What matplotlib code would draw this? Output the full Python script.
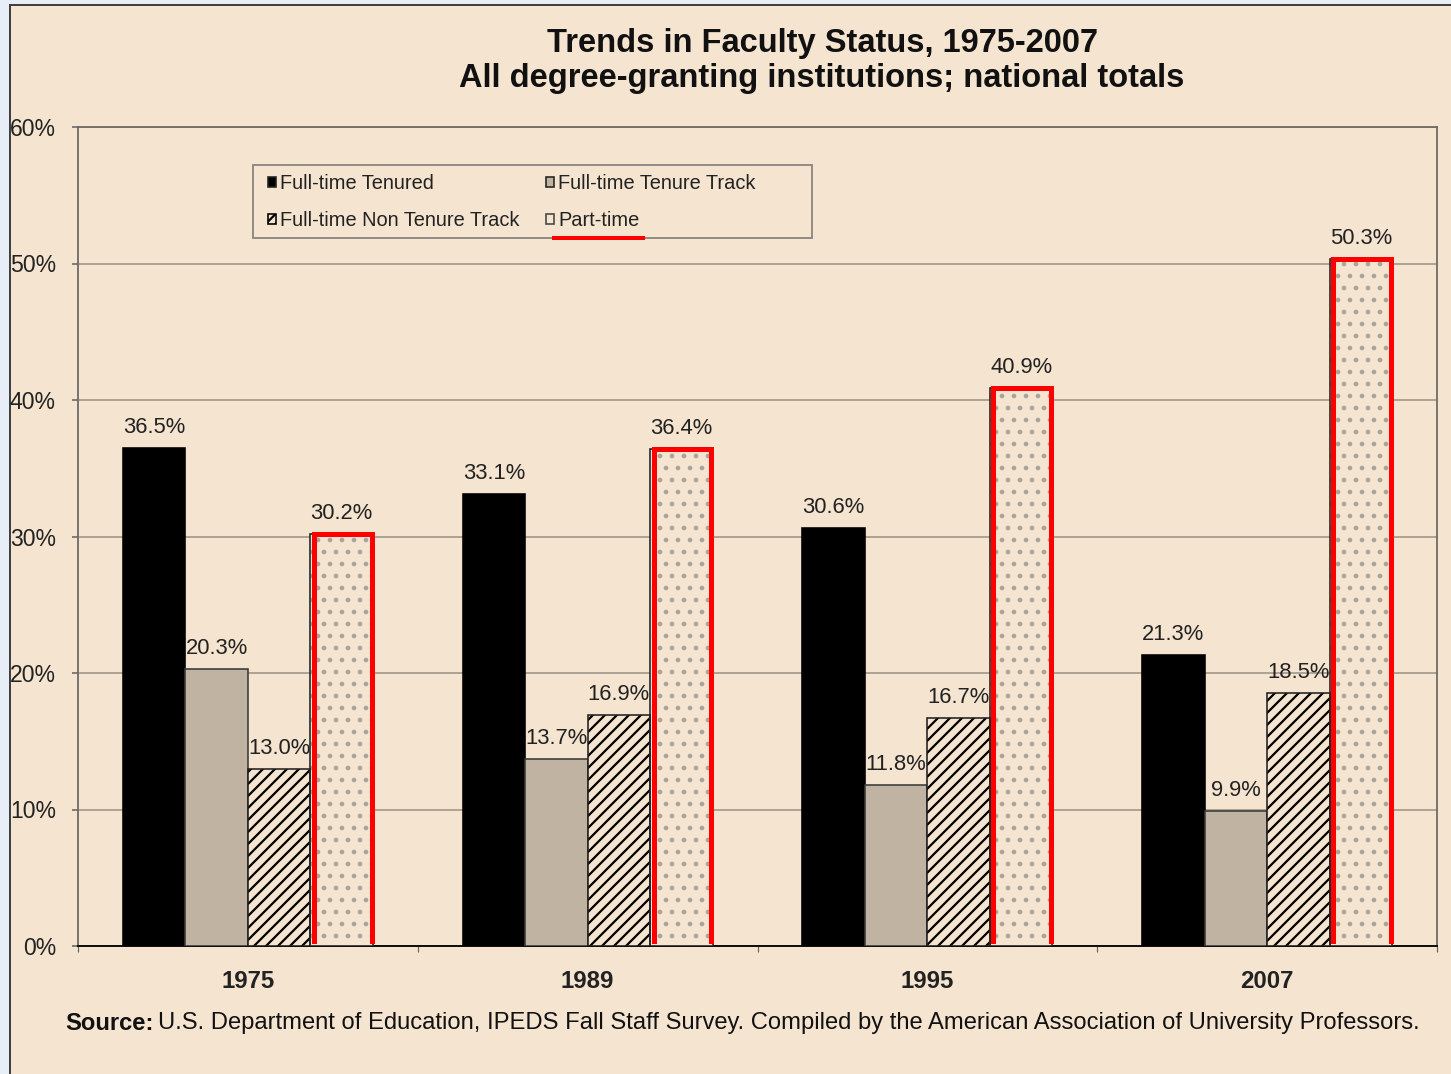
import matplotlib
matplotlib.use("Agg")
import matplotlib.pyplot as plt
import numpy as np
from matplotlib.patches import Rectangle, Patch
from matplotlib.lines import Line2D

# data (percent of faculty)
years = ["1975", "1989", "1995", "2007"]
tenured = [36.5, 33.1, 30.6, 21.3]
tenure_track = [20.3, 13.7, 11.8, 9.9]
non_tenure_track = [13.0, 16.9, 16.7, 18.5]
part_time = [30.2, 36.4, 40.9, 50.3]
y_ticks = [0, 10, 20, 30, 40, 50, 60]
source_rest = ("U.S. Department of Education, IPEDS Fall Staff Survey. "
               "Compiled by the American Association of University Professors.")

beige = "#f5e4d0"
plt.rcParams["font.family"] = ["Liberation Sans", "DejaVu Sans"]
plt.rcParams["hatch.linewidth"] = 1.1

W, H, DPI = 1451, 1074, 144
fig = plt.figure(figsize=(W / DPI, H / DPI), dpi=DPI)
fig.patch.set_facecolor("#e8eef8")
panel = Rectangle((10 / W, -0.01), 1.02, 1 - 5 / H + 0.01, transform=fig.transFigure,
                  facecolor=beige, edgecolor="#404040", linewidth=1.0, zorder=-5)
fig.add_artist(panel)

ax = fig.add_axes([78 / W, 1 - 946 / H, (1437 - 78) / W, (946 - 127) / H])
ax.set_facecolor(beige)

x = np.arange(len(years))
w = 0.184
series = [
    ("Full-time Tenured", tenured, dict(facecolor="black", edgecolor="black")),
    ("Full-time Tenure Track", tenure_track, dict(facecolor="#c1b3a1", edgecolor="#3a3a3a")),
    ("Full-time Non Tenure Track", non_tenure_track, dict(facecolor=beige, edgecolor="black", hatch="////")),
    ("Part-time", part_time, dict(facecolor=beige, edgecolor="#a8a49c", hatch="..")),
]

handles = {}
for i, (name, vals, style) in enumerate(series):
    pos = x + (i - 1.5) * w
    if "hatch" in style:
        ax.bar(pos, vals, w, linewidth=0, zorder=3, **style)
        ax.bar(pos, vals, w, facecolor="none", edgecolor="#222222", linewidth=0.8, zorder=4)
        if name == "Part-time":
            handles[name] = Patch(facecolor=beige, edgecolor="#444444", linewidth=0.8)
        else:
            handles[name] = Patch(facecolor=beige, edgecolor="black", hatch="/////", linewidth=0.8)
    else:
        ax.bar(pos, vals, w, linewidth=0.8, zorder=3, **style)
        handles[name] = Patch(facecolor=style["facecolor"], edgecolor="#222222", linewidth=0.8)
    for px, v in zip(pos, vals):
        ax.annotate(f"{v:.1f}%", (px, v), xytext=(0, 5), textcoords="offset points",
                    ha="center", va="bottom", fontsize=11, color="#222222", zorder=6)

# red outlines drawn around the part-time bars
pos = x + 1.5 * w
for px, v in zip(pos, part_time):
    x0, x1 = px - w / 2 + 0.01, px + w / 2 - 0.004
    ax.plot([x0, x0, x1, x1], [0.4, v, v, 0.4], color="red", linewidth=2.5,
            solid_joinstyle="miter", zorder=5)

ax.set_xlim(-0.5, len(years) - 0.5)
ax.set_ylim(0, 60)
ax.set_yticks(y_ticks)
ax.set_yticklabels([f"{t}%" for t in y_ticks], fontsize=11.5, color="#222222")
ax.set_xticks(x)
ax.set_xticklabels(years, fontsize=12, fontweight="bold", color="#222222")
ax.set_xticks(np.arange(len(years) + 1) - 0.5, minor=True)
ax.tick_params(axis="x", which="major", length=0, pad=12)
ax.tick_params(axis="x", which="minor", length=3, color="#666666", direction="out")
ax.tick_params(axis="y", length=3, color="#666666", direction="out", pad=8)
ax.grid(axis="y", color="#a59d90", linewidth=0.9, zorder=0)
ax.set_axisbelow(True)
for side in ["top", "right", "left"]:
    ax.spines[side].set_color("#6e6a64")
    ax.spines[side].set_linewidth(0.9)
ax.spines["bottom"].set_color("#111111")
ax.spines["bottom"].set_linewidth(1.0)

# legend box drawn separately so the two columns sit where they do in the original
ax.add_patch(Rectangle(((253 - 78) / 1359, (946 - 238) / 819), (812 - 253) / 1359, (238 - 165) / 819,
                       transform=ax.transAxes, facecolor=beige, edgecolor="#888480",
                       linewidth=0.9, zorder=7))
order = ["Full-time Tenured", "Full-time Non Tenure Track", "Full-time Tenure Track", "Part-time"]
leg = ax.legend([handles[n] for n in order], order, ncol=2, loc="upper left",
                bbox_to_anchor=((268 - 78) / 1359, (946 - 174) / 819),
                fontsize=10, frameon=False, handlelength=0.4, handleheight=0.4,
                handletextpad=0.2, borderaxespad=0, borderpad=0, labelspacing=0.9,
                columnspacing=1.35)
leg.set_zorder(8)
for t in leg.get_texts():
    t.set_color("#222222")

fig.text(822 / W, 1 - 61 / H, "Trends in Faculty Status, 1975-2007\nAll degree-granting institutions; national totals",
         ha="center", va="center", fontsize=16.3, fontweight="bold", color="#111111", linespacing=1.2)

src = fig.text(65 / W, 1 - 1023 / H, "Source:", ha="left", va="center", fontsize=11.9,
               fontweight="bold", color="#111111")

fig.canvas.draw()
r = fig.canvas.get_renderer()
bb = src.get_window_extent(r)
fig.text(bb.x1 / W + 0.003, 1 - 1023 / H, source_rest, ha="left", va="center",
         fontsize=11.9, color="#111111")

# red underline beneath the "Part-time" legend entry
tb = leg.get_texts()[3].get_window_extent(r)
y_line = tb.y0 - 8
fig.lines.append(Line2D([(tb.x0 - 4) / W, (tb.x1 + 3) / W], [y_line / H, y_line / H],
                        transform=fig.transFigure, color="red", linewidth=2))

fig.savefig("out.png", dpi=DPI, facecolor=fig.get_facecolor())
